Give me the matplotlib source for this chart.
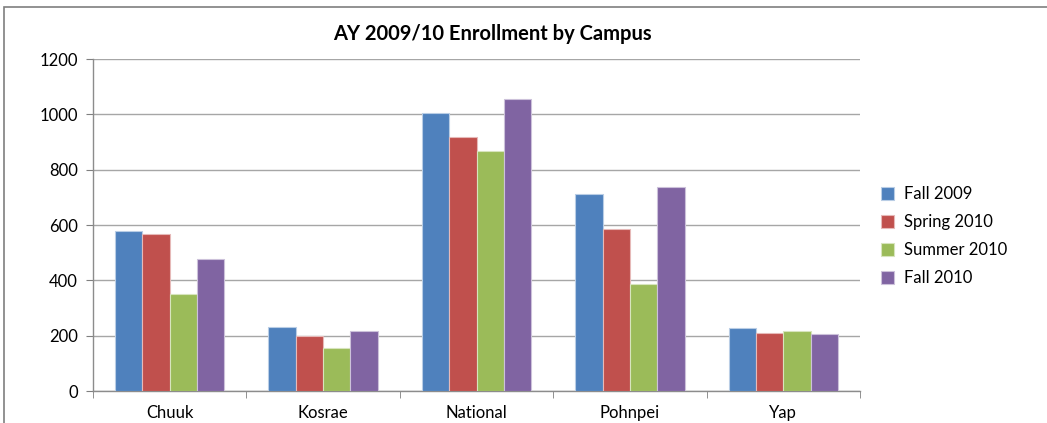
import numpy as np
import matplotlib
matplotlib.use("Agg")
import matplotlib.pyplot as plt
from matplotlib.patches import Rectangle

campus = ["Chuuk", "Kosrae", "National", "Pohnpei", "Yap"]
terms = ["Fall 2009", "Spring 2010", "Summer 2010", "Fall 2010"]
fall_2009 = [580, 231, 1005, 712, 228]
spring_2010 = [566, 199, 918, 585, 208]
summer_2010 = [349, 155, 866, 386, 217]
fall_2010 = [477, 216, 1054, 739, 205]
colores = ["#4F81BD", "#C0504D", "#9BBB59", "#8064A2"]
bordes = ["#B9CDE5", "#E6B9B8", "#D7E4BD", "#CCC1DA"]

plt.rcParams["font.family"] = ["Lato", "DejaVu Sans"]

fig = plt.figure(figsize=(10.47, 4.23), dpi=100)
ax = fig.add_axes([93 / 1047, 1 - 391 / 423, (860 - 93) / 1047, (391 - 59) / 423])

# marco del grafico (solo bordes izquierdo y superior visibles en la imagen)
fig.patches.append(Rectangle((4 / 1047, -0.1), 1.2, 1 - 7 / 423 + 0.1,
                             transform=fig.transFigure, fill=False,
                             edgecolor="#7F7F7F", linewidth=1.2))

x = np.arange(len(campus))
ancho = 0.178
series = [fall_2009, spring_2010, summer_2010, fall_2010]
for i, (vals, c, b, t) in enumerate(zip(series, colores, bordes, terms)):
    ax.bar(x + (i - 1.5) * ancho, vals, width=ancho, color=c,
           edgecolor=b, linewidth=0.8, label=t, zorder=3)

ax.set_xlim(-0.5, len(campus) - 0.5)
ax.set_ylim(0, 1200)
ax.set_yticks(range(0, 1201, 200))
ax.yaxis.grid(True, color="#A6A6A6", linewidth=1.0, zorder=0)

ax.set_xticks(x)
ax.set_xticklabels(campus, fontsize=12)
ax.set_xticks(np.arange(-0.5, len(campus), 1), minor=True)
ax.tick_params(axis="x", which="major", length=0, pad=10)
ax.tick_params(axis="x", which="minor", length=5, color="#7F7F7F", direction="out")
ax.tick_params(axis="y", length=5, color="#7F7F7F", labelsize=12, pad=6)

for lado in ["top", "right"]:
    ax.spines[lado].set_visible(False)
for lado in ["left", "bottom"]:
    ax.spines[lado].set_color("#8C8C8C")
    ax.spines[lado].set_linewidth(1.0)

fig.text(492 / 1047, 1 - 34 / 423, "AY 2009/10 Enrollment by Campus",
         ha="center", va="center", fontsize=14.5, fontweight="bold")

ley = fig.legend(loc="center left", bbox_to_anchor=(866 / 1047, 1 - 236 / 423),
                 frameon=False, fontsize=12, handlelength=0.8, handleheight=0.8,
                 labelspacing=0.72, handletextpad=0.6)

plt.savefig("out.png", dpi=100)
plt.close()
